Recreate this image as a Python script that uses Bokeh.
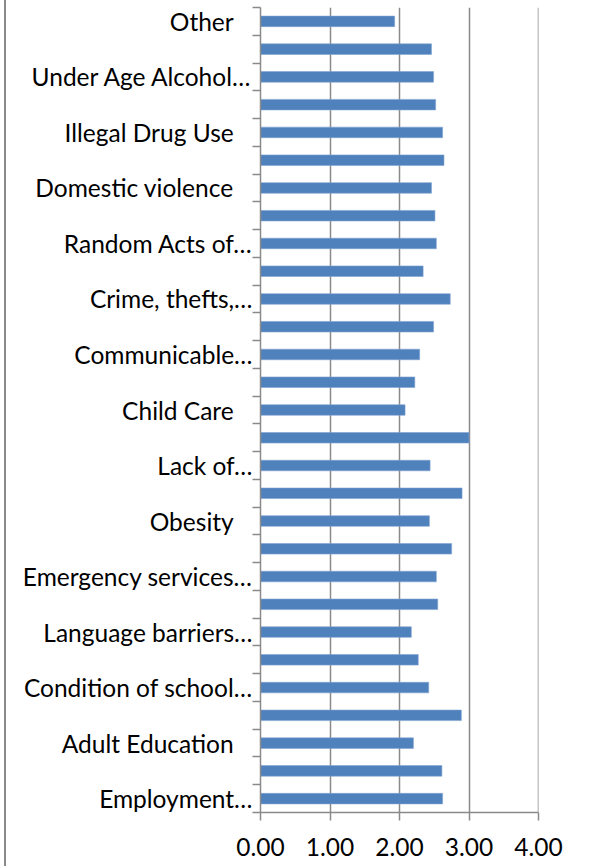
from bokeh.plotting import figure
from bokeh.models import FixedTicker, Range1d, NumeralTickFormatter, Span
from bokeh.embed import file_html
from bokeh.resources import INLINE

# Categories listed top to bottom as shown (unlabelled rows are skipped by the axis)
categories_top_down = [
    "Other   ", "", "Under Age Alcohol…", "", "Illegal Drug Use   ", "",
    "Domestic violence   ", "", "Random Acts of…", "", "Crime, thefts,…", "",
    "Communicable…", "", "Child Care   ", "", "Lack of…", "", "Obesity   ", "",
    "Emergency services…", "", "Language barriers…", "", "Condition of school…", "",
    "Adult Education   ", "", "Employment…",
]
values_top_down = [
    1.93, 2.46, 2.49, 2.52, 2.62, 2.64, 2.46, 2.51, 2.53, 2.34,
    2.73, 2.49, 2.29, 2.22, 2.08, 3.00, 2.44, 2.90, 2.43, 2.75,
    2.53, 2.55, 2.17, 2.27, 2.42, 2.89, 2.20, 2.61, 2.62,
]
x_ticks = [0, 1, 2, 3, 4]

# bottom-to-top order for the numeric category axis
categories = categories_top_down[::-1]
values = values_top_down[::-1]
positions = list(range(len(categories)))

FONT = "Lato"
GREY = "#8a8a8a"

p = figure(
    width=582, height=866,
    output_backend="svg", toolbar_location=None,
    x_range=Range1d(0, 4), y_range=Range1d(-0.5, len(categories) - 0.5),
    min_border_left=254, min_border_right=50, min_border_top=7, min_border_bottom=54,
    styles={"margin-left": "4px", "border-left": "2px solid #8a8a8a"},
)
p.outline_line_color = None
p.background_fill_color = "white"
p.border_fill_color = "white"

# vertical gridlines (incl. the one at the right end, 4.00)
p.xgrid.ticker = FixedTicker(ticks=x_ticks[1:])
p.xgrid.grid_line_color = GREY
p.xgrid.grid_line_width = 1.5
p.ygrid.grid_line_color = None
p.add_layout(Span(location=x_ticks[-1], dimension="height",
                  line_color=GREY, line_width=1.5, level="underlay"))

p.hbar(y=positions, right=values, left=0, height=0.38,
       fill_color="#4F81BD", line_color="#7FA3D0", line_width=0.6)

# x axis
p.xaxis.ticker = FixedTicker(ticks=x_ticks)
p.xaxis.formatter = NumeralTickFormatter(format="0.00")
p.xaxis.major_tick_out = 8
p.xaxis.major_tick_in = 0
p.xaxis.minor_tick_out = 0
p.xaxis.minor_tick_in = 0
p.xaxis.axis_line_color = GREY
p.xaxis.axis_line_width = 1.5
p.xaxis.major_tick_line_color = GREY
p.xaxis.major_tick_line_width = 1.5
p.xaxis.major_label_text_font = FONT
p.xaxis.major_label_text_font_size = "24.5px"
p.xaxis.major_label_text_color = "black"
p.xaxis.major_label_standoff = 17

# y axis: labels on every other row, ticks between categories
label_pos = [i for i in positions if categories[i] != ""]
p.yaxis.ticker = FixedTicker(ticks=label_pos,
                             minor_ticks=[i - 0.5 for i in positions] + [len(positions) - 0.5])
p.yaxis.major_label_overrides = {i: categories[i] for i in label_pos}
p.yaxis.major_tick_out = 0
p.yaxis.major_tick_in = 0
p.yaxis.minor_tick_out = 8
p.yaxis.minor_tick_in = 0
p.yaxis.minor_tick_line_color = GREY
p.yaxis.minor_tick_line_width = 1.5
p.yaxis.axis_line_color = GREY
p.yaxis.axis_line_width = 1.5
p.yaxis.major_label_text_font = FONT
p.yaxis.major_label_text_font_size = "24.5px"
p.yaxis.major_label_text_color = "black"
p.yaxis.major_label_standoff = 0

open("out.html", "w").write(file_html(p, INLINE))
